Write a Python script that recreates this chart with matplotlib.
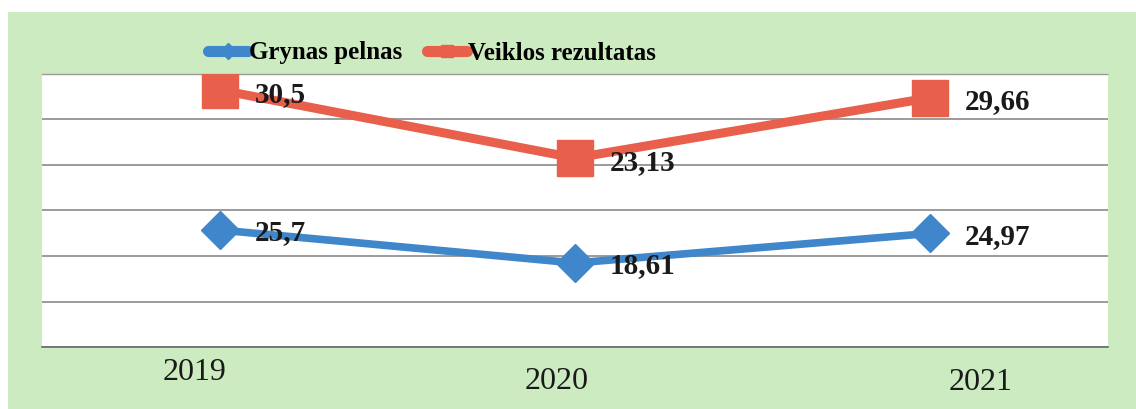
import matplotlib
matplotlib.use("Agg")
import matplotlib.pyplot as plt
from matplotlib.patches import Rectangle
from matplotlib.lines import Line2D
from matplotlib.transforms import ScaledTranslation

years = ["2019", "2020", "2021"]
grynas_pelnas = [25.7, 18.61, 24.97]
veiklos_rezultatas = [30.5, 23.13, 29.66]
label_gp = ["25,7", "18,61", "24,97"]
label_vr = ["30,5", "23,13", "29,66"]

BLUE = "#3F86CA"
RED = "#E8604B"
GREEN = "#CDEBC0"
SERIF = ["Liberation Serif", "DejaVu Serif"]

W, H = 1136, 409
fig = plt.figure(figsize=(W / 100, H / 100), dpi=100)
fig.patch.set_facecolor("white")
fig.patches.append(Rectangle((8 / W, 0), 1 - 8 / W, 1 - 12 / H, transform=fig.transFigure,
                             facecolor=GREEN, edgecolor="none", zorder=-10))

left, right, top, bottom = 42 / W, 1108 / W, 1 - 74 / H, 1 - 347 / H
ax = fig.add_axes([left, bottom, right - left, top - bottom])
ax.set_facecolor("white")
ax2 = ax.twinx()

x = list(range(len(years)))
ax.set_xlim(-0.5, len(years) - 0.5)

# red series (primary axis)
ax.set_ylim(2.66, 32.23)
ax.set_yticks([2.66 + i * (32.23 - 2.66) / 6 for i in range(7)])
ax.grid(axis="y", color="#8a8a8a", linewidth=1.2)
ax.set_axisbelow(True)
ax.plot(x, veiklos_rezultatas, color=RED, linewidth=6.5, marker="s", markersize=26,
        solid_capstyle="butt", zorder=3)
for xi, v, t in zip(x, veiklos_rezultatas, label_vr):
    ax.annotate(t, (xi, v), xytext=(25, -3), textcoords="offset points", ha="left",
                va="center", fontsize=21, fontweight="bold", family=SERIF, color="#1a1a1a",
                zorder=5)

# blue series (secondary axis)
ax2.set_ylim(0.54, 59.25)
ax2.plot(x, grynas_pelnas, color=BLUE, linewidth=5.5, marker="D", markersize=19,
         solid_capstyle="butt", zorder=3)
for xi, v, t in zip(x, grynas_pelnas, label_gp):
    ax2.annotate(t, (xi, v), xytext=(25, -2), textcoords="offset points", ha="left",
                 va="center", fontsize=21, fontweight="bold", family=SERIF, color="#1a1a1a",
                 zorder=5)

for a in (ax, ax2):
    a.tick_params(axis="y", left=False, right=False, labelleft=False, labelright=False)
    for s in a.spines.values():
        s.set_visible(False)

ax.spines["bottom"].set_visible(True)
ax.spines["bottom"].set_color("#6a6a6a")
ax.spines["bottom"].set_linewidth(1.2)
ax.spines["top"].set_visible(True)
ax.spines["top"].set_color("#9a9a9a")
ax.spines["top"].set_linewidth(1.0)
ax.spines["top"].set_linestyle((0, (2, 1)))

ax.set_xticks(x)
ax.set_xticklabels(years, fontsize=23, family=SERIF, color="#1a1a1a")
ax.tick_params(axis="x", length=0, pad=8)
offsets = [(-25, 0), (-18, -9), (50, -10)]
for lbl, (dx, dy) in zip(ax.get_xticklabels(), offsets):
    lbl.set_transform(lbl.get_transform() + ScaledTranslation(dx / 100, dy / 100, fig.dpi_scale_trans))

handles = [
    Line2D([], [], color=BLUE, linewidth=8, marker="D", markersize=8, solid_capstyle="round"),
    Line2D([], [], color=RED, linewidth=8, marker="s", markersize=8, solid_capstyle="round"),
]
fig.legend(handles, ["Grynas pelnas", "Veiklos rezultatas"], loc="center",
           bbox_to_anchor=(432 / W, 1 - 53 / H), ncol=2, frameon=False,
           prop={"family": SERIF, "weight": "bold", "size": 18},
           handlelength=1.6, handletextpad=0.05, columnspacing=1.0)

fig.savefig("out.png", dpi=100, facecolor=fig.get_facecolor())
